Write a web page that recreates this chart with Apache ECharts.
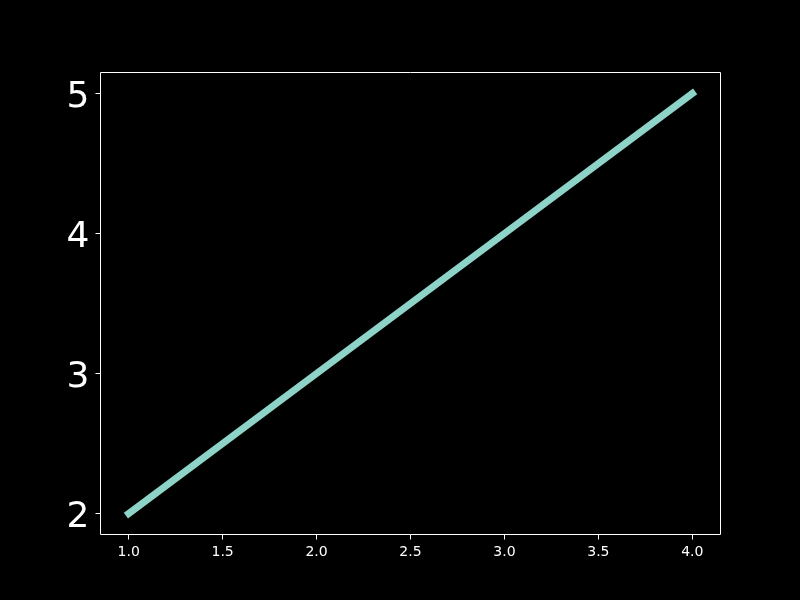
<!DOCTYPE html>
<html><head><meta charset="utf-8">
<script src="https://cdn.jsdelivr.net/npm/echarts@6/dist/echarts.min.js"></script>
<style>html,body{margin:0;padding:0;background:#000}#c{width:800px;height:600px}</style>
</head><body><div id="c"></div>
<script>
const xValues = [1, 2, 3, 4];
const yValues = [2, 3, 4, 5];
const xTicks = [1.0, 1.5, 2.0, 2.5, 3.0, 3.5, 4.0];
const yTicks = [2, 3, 4, 5];

const chart = echarts.init(document.getElementById('c'), null, {renderer: 'canvas'});
chart.setOption({
  backgroundColor: '#000',
  animation: false,
  grid: {left: 100.5, right: 79.5, top: 72.5, bottom: 65.5, show: true, borderColor: '#fff', borderWidth: 1, backgroundColor: 'transparent'},
  xAxis: {
    type: 'value', min: 0.85, max: 4.15,
    axisLine: {show: false},
    splitLine: {show: false},
    axisTick: {show: true, length: 5, inside: false, lineStyle: {color: '#fff', width: 1}, customValues: xTicks},
    axisLabel: {color: '#fff', fontSize: 14, fontFamily: 'DejaVu Sans', margin: 11, customValues: xTicks,
      formatter: v => Number(v).toFixed(1)}
  },
  yAxis: {
    type: 'value', min: 1.85, max: 5.15,
    axisLine: {show: false},
    splitLine: {show: false},
    axisTick: {show: true, length: 5, inside: false, lineStyle: {color: '#fff', width: 1}, customValues: yTicks},
    axisLabel: {color: '#fff', fontSize: 36, fontFamily: 'DejaVu Sans', margin: 11, customValues: yTicks,
      formatter: v => '{a|' + String(Math.round(v)) + '}',
      rich: {a: {color: '#fff', fontSize: 36, fontFamily: 'DejaVu Sans', padding: [8, 0, 0, 0]}}}
  },
  series: [{
    type: 'line',
    data: xValues.map((x, i) => [x, yValues[i]]),
    showSymbol: false,
    lineStyle: {color: '#8dd3c7', width: 7, cap: 'square'},
    itemStyle: {color: '#8dd3c7'}
  }]
});
</script></body></html>
